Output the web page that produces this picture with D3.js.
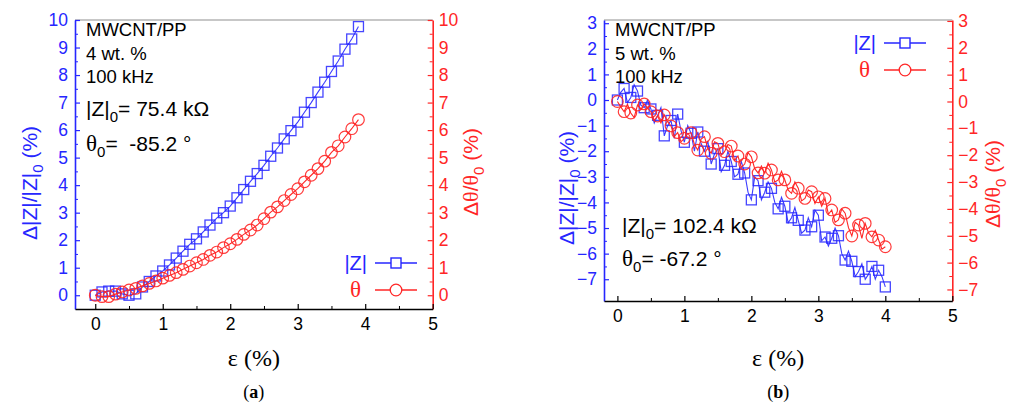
<!DOCTYPE html>
<html><head><meta charset="utf-8">
<script src="https://cdn.jsdelivr.net/npm/d3@7"></script>
<style>body{margin:0;background:#fff}</style></head>
<body>
<svg id="c" width="1018" height="406"></svg>
<script>
// ---------- data ----------
const xTicks = [0, 1, 2, 3, 4, 5];
const xMinor = [0.5, 1.5, 2.5, 3.5, 4.5];
const aYTicks = [0, 1, 2, 3, 4, 5, 6, 7, 8, 9, 10];
const bYTicks = [-7, -6, -5, -4, -3, -2, -1, 0, 1, 2, 3];

// panel (a): strain step 0.1 from 0 to 3.9
const aStep = 0.1;
const aZ = [0.0, 0.12, 0.15, 0.15, 0.05, 0.0, 0.05, 0.3, 0.5, 0.7,
            0.88, 1.1, 1.35, 1.6, 1.85, 2.05, 2.3, 2.55, 2.8, 3.0,
            3.24, 3.54, 3.84, 4.14, 4.42, 4.72, 5.05, 5.35, 5.68, 5.98,
            6.29, 6.65, 7.0, 7.38, 7.74, 8.13, 8.51, 8.94, 9.31, 9.76];
const aTheta = [0.0, -0.05, -0.05, 0.04, 0.12, 0.19, 0.25, 0.34, 0.43, 0.52,
                0.62, 0.72, 0.82, 0.94, 1.06, 1.18, 1.3, 1.45, 1.57, 1.73,
                1.87, 2.03, 2.21, 2.37, 2.55, 2.78, 3.02, 3.21, 3.44, 3.66,
                3.87, 4.12, 4.36, 4.6, 4.87, 5.19, 5.43, 5.75, 6.05, 6.38];

// panel (b): strain step 0.05 from 0 to 4.0 (markers every 2nd point)
const bStep = 0.05;
const bZ = [0.0, 0.3, 0.45, -0.1, 0.1, 0.6, 0.35, -0.2, -0.3, 0.0,
            -0.35, -0.9, -0.6, -0.3, -1.4, -1.0, -0.8, -1.5, -0.55, -1.2,
            -1.65, -1.0, -1.3, -2.0, -1.25, -1.7, -2.0, -1.6, -2.5, -2.1,
            -1.9, -2.8, -2.55, -2.0, -2.4, -3.0, -2.9, -2.4, -2.85, -3.6,
            -3.9, -3.0, -3.15, -3.9, -3.6, -3.2, -3.45, -4.0, -4.25, -3.8,
            -4.15, -4.8, -4.6, -4.2, -4.7, -5.2, -5.08, -4.6, -4.95, -4.3,
            -4.5, -5.5, -5.35, -5.7, -5.4, -5.0, -5.3, -6.0, -6.25, -5.9,
            -6.3, -6.9, -6.7, -6.4, -7.0, -6.8, -6.5, -7.0, -6.65, -6.9,
            -7.3];
const bTheta = [0.0, -0.2, -0.38, -0.1, -0.43, -0.6, -0.13, -0.3, -0.09, -0.25,
                -0.38, -0.7, -0.54, -0.8, -0.5, -0.75, -0.91, -1.3, -1.16, -1.5,
                -1.37, -1.2, -1.16, -1.6, -1.81, -1.4, -1.31, -1.75, -1.93, -1.5,
                -1.56, -2.0, -1.87, -1.6, -1.66, -2.2, -2.03, -2.45, -2.33, -1.9,
                -2.06, -2.5, -2.66, -2.4, -2.67, -2.3, -2.55, -3.0, -2.92, -2.6,
                -2.92, -3.3, -3.42, -3.0, -3.23, -3.7, -3.61, -3.3, -3.36, -3.8,
                -3.55, -3.9, -3.61, -4.2, -4.04, -4.5, -4.41, -4.0, -4.16, -4.7,
                -5.01, -4.5, -4.6, -5.1, -4.54, -4.9, -5.04, -4.8, -5.16, -5.5,
                -5.41];

// ---------- drawing ----------
const BLUE = "#2626ff", RED = "#ff2626";
const SANS = "'Liberation Sans', Arial, sans-serif";
const SERIF = "'Liberation Serif', 'Times New Roman', serif";
const svg = d3.select("#c");

function toPts(vals, step) { return vals.map((v, i) => [i * step, v]); }

function panel(cfg) {
  const g = svg.append("g");
  const x = d3.scaleLinear().domain(cfg.xDom).range([cfg.left, cfg.right]);
  const yL = d3.scaleLinear().domain(cfg.yLDom).range([cfg.bottom, cfg.top]);
  const yR = d3.scaleLinear().domain(cfg.yRDom).range([cfg.bottom, cfg.top]);
  const yMinor = cfg.yTicks.slice(0, -1).map(v => v + 0.5);

  g.append("line").attr("x1", cfg.left).attr("x2", cfg.right)
    .attr("y1", cfg.top).attr("y2", cfg.top)
    .attr("stroke", "#909090").attr("stroke-width", 1.2);

  function styleAxis(sel, color) {
    sel.attr("color", color);
    sel.selectAll("text").attr("font-family", SANS).attr("font-size", 17.5);
    sel.select(".domain").attr("stroke-width", 1.6);
    sel.selectAll(".tick line").attr("stroke-width", 1.2);
  }

  const gx = g.append("g").attr("transform", `translate(0,${cfg.bottom})`);
  gx.call(d3.axisBottom(x).tickValues(xTicks).tickSize(-5).tickSizeOuter(0).tickPadding(9).tickFormat(d3.format("d")));
  styleAxis(gx, "#000");
  g.append("g").attr("transform", `translate(0,${cfg.bottom})`)
    .call(d3.axisBottom(x).tickValues(xMinor).tickSize(-3).tickFormat(""))
    .call(s => s.select(".domain").remove())
    .attr("color", "#000");

  const gl = g.append("g").attr("transform", `translate(${cfg.left},0)`);
  gl.call(d3.axisLeft(yL).tickValues(cfg.yTicks).tickSize(-5).tickSizeOuter(0).tickPadding(7).tickFormat(d3.format("d")));
  styleAxis(gl, BLUE);
  g.append("g").attr("transform", `translate(${cfg.left},0)`)
    .call(d3.axisLeft(yL).tickValues(yMinor).tickSize(-3).tickFormat(""))
    .call(s => s.select(".domain").remove())
    .attr("color", BLUE);

  const gr = g.append("g").attr("transform", `translate(${cfg.right},0)`);
  gr.call(d3.axisRight(yR).tickValues(cfg.yTicks).tickSize(-5).tickSizeOuter(0).tickPadding(6).tickFormat(d3.format("d")));
  styleAxis(gr, RED);
  g.append("g").attr("transform", `translate(${cfg.right},0)`)
    .call(d3.axisRight(yR).tickValues(yMinor).tickSize(-3).tickFormat(""))
    .call(s => s.select(".domain").remove())
    .attr("color", RED);

  gx.raise();

  const zPts = toPts(cfg.z, cfg.step), tPts = toPts(cfg.t, cfg.step);
  const lineL = d3.line().x(d => x(d[0])).y(d => yL(d[1]));
  const lineR = d3.line().x(d => x(d[0])).y(d => yR(d[1]));
  g.append("path").attr("d", lineL(zPts)).attr("fill", "none")
    .attr("stroke", BLUE).attr("stroke-width", 1.1).attr("stroke-opacity", 0.9);
  const zMk = zPts.filter((d, i) => i % cfg.skip === 0);
  g.selectAll(null).data(zMk).join("rect")
    .attr("x", d => x(d[0]) - 5).attr("y", d => yL(d[1]) - 5)
    .attr("width", 10).attr("height", 10)
    .attr("fill", "none").attr("stroke", BLUE).attr("stroke-width", 1.3).attr("stroke-opacity", 0.85);

  g.append("path").attr("d", lineR(tPts)).attr("fill", "none")
    .attr("stroke", RED).attr("stroke-width", 1.1);
  const tMk = tPts.filter((d, i) => i % cfg.skip === 0);
  g.selectAll(null).data(tMk).join("circle")
    .attr("cx", d => x(d[0])).attr("cy", d => yR(d[1])).attr("r", 5.8)
    .attr("fill", "none").attr("stroke", RED).attr("stroke-width", 1.2).attr("stroke-opacity", 0.9);

  const cx = (cfg.left + cfg.right) / 2;
  g.append("text").attr("x", cx).attr("y", 366).attr("text-anchor", "middle")
    .attr("font-family", SERIF).attr("font-size", 24).attr("fill", "#000").text("ε (%)");

  const lt = g.append("text")
    .attr("transform", `translate(${cfg.lTitleX},${cfg.lTitleY}) rotate(-90)`)
    .attr("text-anchor", "middle").attr("font-family", SANS).attr("font-size", 21).attr("fill", BLUE);
  lt.append("tspan").text("Δ|Z|/|Z|");
  lt.append("tspan").attr("dy", 6).attr("font-size", 15).text("0");
  lt.append("tspan").attr("dy", -6).text(" (%)");

  const rt = g.append("text")
    .attr("transform", `translate(${cfg.rTitleX},${cfg.rTitleY}) rotate(-90)`)
    .attr("text-anchor", "middle").attr("font-family", SANS).attr("font-size", 21).attr("fill", RED);
  rt.append("tspan").text("Δ");
  rt.append("tspan").attr("font-family", SERIF).attr("font-size", 22).text("θ");
  rt.append("tspan").text("/");
  rt.append("tspan").attr("font-family", SERIF).attr("font-size", 22).text("θ");
  rt.append("tspan").attr("dy", 6).attr("font-size", 15).text("0");
  rt.append("tspan").attr("dy", -6).text(" (%)");

  g.append("text").attr("x", cx).attr("y", 398).attr("text-anchor", "middle")
    .attr("font-family", SERIF).attr("font-size", 18).attr("fill", "#000")
    .html(`(<tspan font-weight="bold">${cfg.letter}</tspan>)`);

  const ax = cfg.left + 11;
  [["MWCNT/PP", 36], [cfg.wt, 60], ["100 kHz", 83]].forEach(([s, yy]) => {
    g.append("text").attr("x", ax).attr("y", yy).attr("font-family", SANS)
      .attr("font-size", 18.5).attr("fill", "#000").text(s);
  });
  const z0 = g.append("text").attr("x", cfg.left + 11 + cfg.annDx).attr("y", cfg.z0Y)
    .attr("font-family", SANS).attr("font-size", 21).attr("fill", "#000");
  z0.append("tspan").text("|Z|");
  z0.append("tspan").attr("dy", 6).attr("font-size", 15).text("0");
  z0.append("tspan").attr("dy", -6).text("= " + cfg.z0);
  const t0 = g.append("text").attr("x", cfg.left + 11 + cfg.annDx).attr("y", cfg.t0Y)
    .attr("font-family", SANS).attr("font-size", 21).attr("fill", "#000");
  t0.append("tspan").attr("font-family", SERIF).attr("font-size", 23).text("θ");
  t0.append("tspan").attr("dy", 6).attr("font-size", 15).text("0");
  t0.append("tspan").attr("dy", -6).attr("style", "white-space:pre").text("= " + cfg.t0);

  const L = cfg.leg;
  g.append("text").attr("x", L.x - 8).attr("y", L.y1 + 7).attr("text-anchor", "end")
    .attr("font-family", SANS).attr("font-size", 20).attr("fill", BLUE).text("|Z|");
  g.append("line").attr("x1", L.x).attr("x2", L.x + 42).attr("y1", L.y1).attr("y2", L.y1)
    .attr("stroke", BLUE).attr("stroke-width", 1.6);
  g.append("rect").attr("x", L.x + 21 - 5).attr("y", L.y1 - 5).attr("width", 10).attr("height", 10)
    .attr("fill", "#fff").attr("stroke", BLUE).attr("stroke-width", 1.4);
  g.append("text").attr("x", L.x - 14).attr("y", L.y2 + 7).attr("text-anchor", "end")
    .attr("font-family", SERIF).attr("font-size", 23).attr("fill", RED).text("θ");
  g.append("line").attr("x1", L.x).attr("x2", L.x + 42).attr("y1", L.y2).attr("y2", L.y2)
    .attr("stroke", RED).attr("stroke-width", 1.6);
  g.append("circle").attr("cx", L.x + 21).attr("cy", L.y2).attr("r", 5.8)
    .attr("fill", "#fff").attr("stroke", RED).attr("stroke-width", 1.3);
}

panel({
  left: 75, right: 432.7, top: 20, bottom: 309,
  xDom: [-0.3, 5], yLDom: [-0.5, 10], yRDom: [-0.5, 10],
  yTicks: aYTicks, z: aZ, t: aTheta, step: aStep, skip: 1,
  lTitleX: 37, lTitleY: 183, rTitleX: 478, rTitleY: 172,
  letter: "a", wt: "4 wt. %", z0: "75.4 kΩ", t0: " -85.2 °",
  annDx: 0, z0Y: 116, t0Y: 151,
  leg: { x: 375, y1: 263, y2: 290 }
});
panel({
  left: 604, right: 952.3, top: 20, bottom: 301,
  xDom: [-0.2, 5], yLDom: [-7.85, 3.125], yRDom: [-7.43, 3.035],
  yTicks: bYTicks, z: bZ, t: bTheta, step: bStep, skip: 2,
  lTitleX: 574, lTitleY: 188, rTitleX: 1000, rTitleY: 184,
  letter: "b", wt: "5 wt. %", z0: "102.4 kΩ", t0: "-67.2 °",
  annDx: 7, z0Y: 233, t0Y: 266,
  leg: { x: 884, y1: 43, y2: 70 }
});
</script>
</body></html>
